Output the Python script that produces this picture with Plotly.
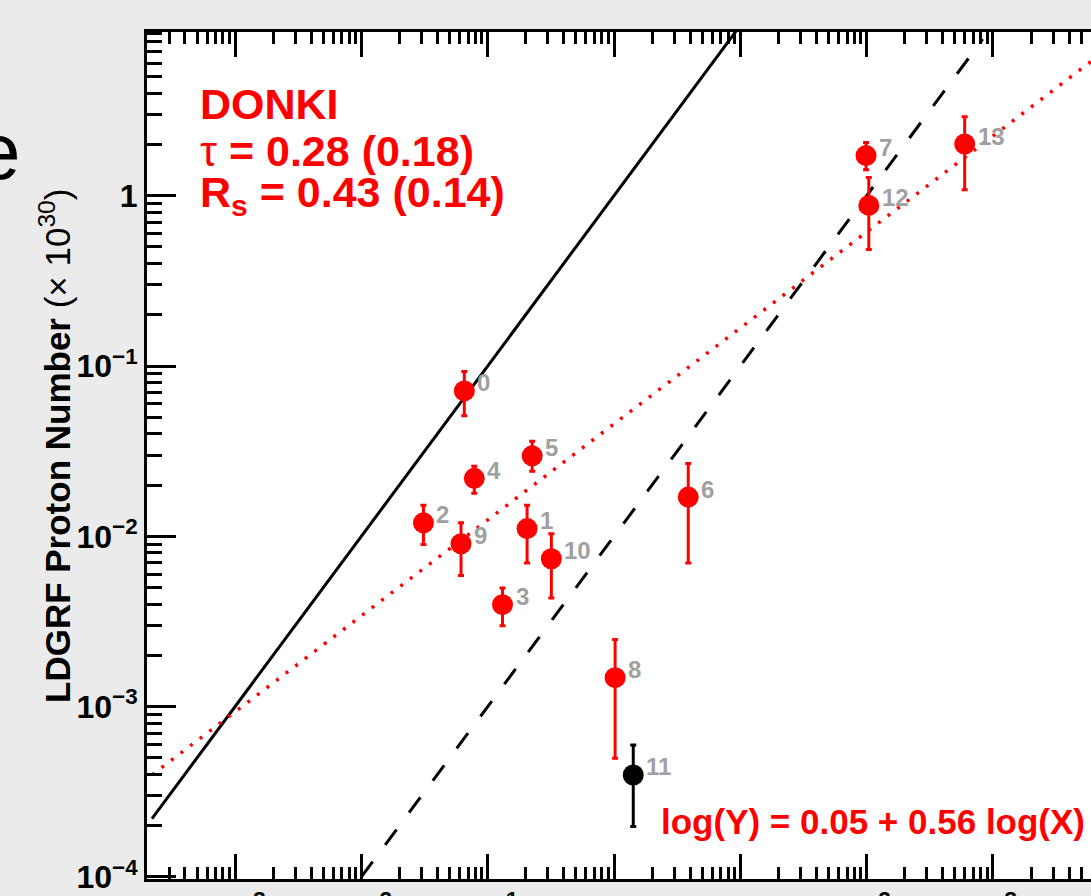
import numpy as np
import plotly.graph_objects as go

# ---------------- data ----------------
event_ids = [0, 1, 2, 3, 4, 5, 6, 7, 8, 9, 10, 11, 12, 13]
x_vals = [0.0653, 0.205, 0.031, 0.131, 0.0783, 0.225, 3.87, 98.9, 1.02, 0.0615, 0.319, 1.42, 104.0, 597.0]
y_vals = [0.0714, 0.0111, 0.0120, 0.00397, 0.0219, 0.0297, 0.0170, 1.72, 0.00148, 0.00904, 0.00738, 0.000397, 0.877, 2.01]
y_hi = [0.0928, 0.0152, 0.0152, 0.00497, 0.0258, 0.0361, 0.0268, 2.05, 0.00248, 0.0120, 0.01035, 0.000596, 1.28, 2.91]
y_lo = [0.0510, 0.00697, 0.00895, 0.00298, 0.0179, 0.0241, 0.00697, 1.42, 0.000498, 0.00589, 0.00435, 0.000198, 0.483, 1.084]
point_colors = ["red"] * 11 + ["black"] + ["red"] * 2

# reference lines Y = ratio * X
ratio_solid = 1.0
ratio_dashed = 0.01
solid_x = [2.2e-4, 100.0]
dashed_x = [1.0e-2, 830.0]

# fitted relation as drawn (log Y = b + m log X)
fit_b = -1.34
fit_m = 0.5635
fit_x = [2.2e-4, 1.0e4]

x_tickvals = [1e-3, 1e-2, 1e-1, 1, 10, 100, 1000]
x_ticktext = ["<b>10<sup>\u22123</sup></b>", "<b>10<sup>\u22122</sup></b>", "<b>10<sup>\u22121</sup></b>",
              "<b>1</b>", "<b>10</b>", "<b>10<sup>2</sup></b>", "<b>10<sup>3</sup></b>"]
y_tickvals = [1e-4, 1e-3, 1e-2, 1e-1, 1]
y_ticktext = ["<b>10<sup>\u22124</sup></b>", "<b>10<sup>\u22123</sup></b>", "<b>10<sup>\u22122</sup></b>",
              "<b>10<sup>\u22121</sup></b>", "<b>1</b>"]

stats_lines = ["<b>DONKI</b>", "\u03c4 <b>= 0.28 (0.18)</b>", "<b>R<sub>s</sub> = 0.43 (0.14)</b>"]
fit_label = "<b>log(Y) = 0.05 + 0.56 log(X)</b>"
y_title = "<b>LDGRF Proton Number</b> (\u00d7 10<sup>30</sup>)"

# ---------------- figure ----------------
FONT = "Liberation Sans, Arial, Helvetica, sans-serif"
W, H = 1091, 896
ML, MR, MT, MB = 147, 0, 32, 17
PW, PH = W - ML - MR, H - MT - MB

def px_x(p):
    return (p - ML) / PW

def px_y(p):
    return (H - MB - p) / PH

fig = go.Figure()

sx = np.array(solid_x)
fig.add_trace(go.Scatter(x=sx, y=ratio_solid * sx, mode="lines",
                         line=dict(color="black", width=3), hoverinfo="skip"))
dx = np.array(dashed_x)
fig.add_trace(go.Scatter(x=dx, y=ratio_dashed * dx, mode="lines",
                         line=dict(color="black", width=3, dash="19px,21px"), hoverinfo="skip"))
fx = np.array(fit_x)
fig.add_trace(go.Scatter(x=fx, y=10 ** (fit_b + fit_m * np.log10(fx)), mode="lines",
                         line=dict(color="red", width=3.5, dash="3px,9px"), hoverinfo="skip"))

xv = np.array(x_vals)
yv = np.array(y_vals)
yh = np.array(y_hi)
yl = np.array(y_lo)
for col in ["red", "black"]:
    idx = [i for i, c in enumerate(point_colors) if c == col]
    fig.add_trace(go.Scatter(
        x=xv[idx], y=yv[idx], mode="markers",
        marker=dict(color=col, size=21, line=dict(width=0)),
        error_y=dict(type="data", symmetric=False, array=yh[idx] - yv[idx],
                     arrayminus=yv[idx] - yl[idx], color=col, thickness=3, width=3),
        hoverinfo="skip"))

annotations = []
for i, eid in enumerate(event_ids):
    annotations.append(dict(x=np.log10(x_vals[i]), y=np.log10(y_vals[i]), xref="x", yref="y",
                            text=f"<b>{eid}</b>", showarrow=False, xanchor="left", yanchor="middle",
                            xshift=11, yshift=8, font=dict(family=FONT, size=24, color="#a0a0a0")))

stat_baselines = [118, 165, 212]
for txt, bl in zip(stats_lines, stat_baselines):
    annotations.append(dict(x=px_x(198), y=px_y(bl + 12), xref="paper", yref="paper", text=txt,
                            showarrow=False, xanchor="left", yanchor="bottom",
                            font=dict(family=FONT, size=43, color="red")))

annotations.append(dict(x=px_x(1087), y=px_y(843), xref="paper", yref="paper", text=fit_label,
                        showarrow=False, xanchor="right", yanchor="bottom",
                        font=dict(family=FONT, size=35, color="red")))

annotations.append(dict(x=px_x(55), y=px_y(446), xref="paper", yref="paper", text=y_title,
                        showarrow=False, textangle=-90, xanchor="center", yanchor="middle",
                        font=dict(family=FONT, size=35, color="black")))

annotations.append(dict(x=px_x(23), y=px_y(151), xref="paper", yref="paper", text="e",
                        showarrow=False, xanchor="right", yanchor="middle",
                        font=dict(family=FONT, size=80, color="black")))

def minor_vals(lo, hi):
    out = []
    for d in range(lo, hi + 1):
        for k in range(2, 10):
            out.append(k * 10.0 ** d)
    return out

axis_common = dict(type="log", showgrid=False, zeroline=False, showline=True, linecolor="black",
                   linewidth=3, ticks="inside", tickcolor="black", tickwidth=3, tickmode="array",
                   tickfont=dict(family=FONT, size=32, color="black"), automargin=False)

fig.update_layout(
    width=W, height=H,
    margin=dict(l=ML, r=MR, t=MT, b=MB, pad=0),
    paper_bgcolor="#ebebeb", plot_bgcolor="white",
    showlegend=False,
    xaxis=dict(range=[-3.697, 3.776], tickvals=x_tickvals, ticktext=x_ticktext, ticklen=25,
               mirror="ticks",
               minor=dict(tickvals=minor_vals(-4, 3), ticks="inside", ticklen=12, tickwidth=2.5,
                          tickcolor="black", showgrid=False),
               **axis_common),
    yaxis=dict(range=[-4.012, 0.961], tickvals=y_tickvals, ticktext=y_ticktext, ticklen=29,
               minor=dict(tickvals=minor_vals(-4, 0), ticks="inside", ticklen=15, tickwidth=2.5,
                          tickcolor="black", showgrid=False),
               **axis_common),
    annotations=annotations,
)

fig.write_html("out.html")
